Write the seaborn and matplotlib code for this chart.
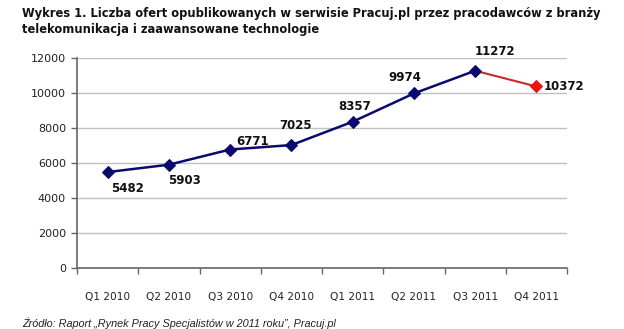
import matplotlib
matplotlib.use("Agg")
import matplotlib.pyplot as plt
import seaborn as sns
import pandas as pd
import numpy as np

quarters = ["Q1 2010", "Q2 2010", "Q3 2010", "Q4 2010", "Q1 2011", "Q2 2011", "Q3 2011", "Q4 2011"]
offers = [5482, 5903, 6771, 7025, 8357, 9974, 11272, 10372]
y_ticks = [0, 2000, 4000, 6000, 8000, 10000, 12000]
title_text = ("Wykres 1. Liczba ofert opublikowanych w serwisie Pracuj.pl przez pracodawców z branży\n"
              "telekomunikacja i zaawansowane technologie")
source_text = "Źródło: Raport „Rynek Pracy Specjalistów w 2011 roku\u201d, Pracuj.pl"

# label offsets in pixels (dx, dy, ha)
label_offsets = [(20, -16, "center"), (16, -16, "center"), (22, 8, "center"), (4, 20, "center"),
                 (2, 15, "center"), (-9, 16, "center"), (20, 19, "center"), (7, 0, "left")]

sns.set_theme(style="white")
plt.rcParams["font.family"] = ["DejaVu Sans"]

df = pd.DataFrame({"x": np.arange(len(quarters)), "q": quarters, "v": offers})
blue_df = df.iloc[:7]
red_df = df.iloc[6:]

fig = plt.figure(figsize=(6.24, 3.29), dpi=100)
ax = fig.add_axes([77 / 624, 1 - 268 / 329, 490 / 624, 210 / 329])

navy = "#0a0a6e"
sns.lineplot(data=red_df, x="x", y="v", ax=ax, color="#c8282a", linewidth=1.5,
             marker="D", markersize=6, markevery=[1], markerfacecolor="#ee1111",
             markeredgecolor="#ee1111")
sns.lineplot(data=blue_df, x="x", y="v", ax=ax, color=navy, linewidth=1.8,
             marker="D", markersize=6, markerfacecolor=navy, markeredgecolor=navy)

for (xi, vi), (dx, dy, ha) in zip(zip(df["x"], df["v"]), label_offsets):
    ax.annotate(f"{vi}", (xi, vi), xytext=(dx, dy), textcoords="offset pixels",
                ha=ha, va="center", fontsize=8.5, fontweight="bold", color="#111111")

ax.set_xlim(-0.5, len(quarters) - 0.5)
ax.set_ylim(0, 12000)
ax.set_yticks(y_ticks)
ax.set_yticklabels([str(t) for t in y_ticks], fontsize=8, color="#222222")
ax.set_xticks(df["x"])
ax.set_xticklabels(quarters, fontsize=7.6, color="#222222")
ax.set_xticks(np.arange(-0.5, len(quarters), 1.0), minor=True)
ax.tick_params(axis="x", which="major", length=0, pad=17, bottom=True)
ax.tick_params(axis="x", which="minor", length=4, width=1, color="#666666", direction="out", bottom=True)
ax.tick_params(axis="y", which="major", length=4, width=1, color="#666666", direction="out", pad=4, left=True)
ax.set_xlabel("")
ax.set_ylabel("")
ax.grid(axis="y", color="#c0c0c0", linewidth=1)
ax.set_axisbelow(True)
for s in ["top", "right"]:
    ax.spines[s].set_visible(False)
for s in ["left", "bottom"]:
    ax.spines[s].set_color("#666666")
    ax.spines[s].set_linewidth(1.2)

fig.text(22 / 624, 1 - 7 / 329, title_text, ha="left", va="top", fontsize=8.3,
         fontweight="bold", color="#111111", linespacing=1.25)
fig.text(22 / 624, 1 - 323 / 329, source_text, ha="left", va="center", fontsize=7.8,
         style="italic", color="#222222", family="Liberation Sans")

fig.savefig("out.png", dpi=100)
